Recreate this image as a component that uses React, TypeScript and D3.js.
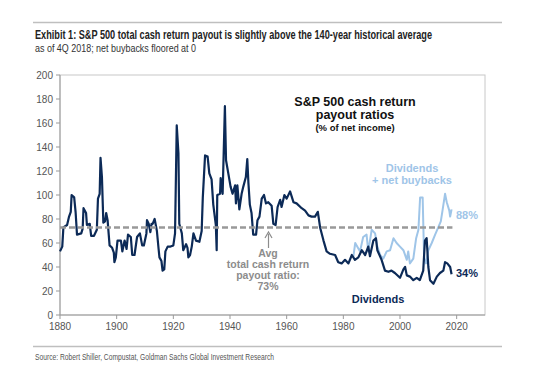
import React from "react";
import * as d3 from "d3";

const divYears = [1880,1880.8,1881.2,1882.5,1883.2,1883.8,1884.1,1885,1885.5,1886,1887.5,1888,1888.3,1889.2,1889.5,1890.5,1891,1892,1893,1893.4,1894,1894.3,1894.8,1895.3,1895.9,1896.3,1896.8,1897.2,1897.5,1898.4,1899,1899.2,1899.7,1900.3,1901.5,1902,1902.8,1903.5,1904,1905,1905.5,1906.3,1907.2,1908.2,1909,1909.6,1910.5,1910.7,1911.3,1911.9,1912.3,1912.7,1913.4,1914.2,1914.8,1915.1,1915.8,1916.2,1916.8,1917.2,1918,1919,1920,1920.6,1921.2,1921.8,1922.1,1923,1923.5,1924.5,1925,1925.3,1925.9,1926.5,1927.1,1928,1929.2,1930,1930.4,1931.2,1932.1,1932.7,1933.5,1934.1,1935,1935.3,1935.5,1936.5,1936.7,1937.4,1938.2,1938.6,1939.4,1940.2,1940.9,1941.8,1942.1,1942.6,1943.3,1944.1,1944.7,1945.6,1946.1,1946.5,1947,1947.6,1948.2,1949.2,1949.7,1950.4,1951.2,1952,1952.7,1953.5,1954.7,1955.3,1956.1,1956.8,1957.7,1958.2,1959.2,1960,1961.2,1962.4,1963.5,1965.3,1966.5,1967.7,1968.8,1970,1971,1971.8,1973,1974.1,1975.3,1977.1,1978.2,1979.4,1980.6,1981.8,1983,1984.1,1985.3,1986.5,1987.7,1988.8,1989.4,1990.6,1991.5,1992,1993.5,1994.7,1995.9,1997,1998.2,2000,2001.2,2001.8,2002.4,2003.5,2004.7,2005.9,2007,2008.2,2008.8,2009.4,2010,2010.6,2011.8,2013,2014.1,2015.3,2015.9,2016.7,2017.7,2018.2];
const divValues = [53,57,73,75,82,86,100,98,86,67,68,72,89,85,75,76,66,66,71,97,101,131,115,77,78,85,79,67,58,56,52,44,48,62,62,53,62,55,67,65,50,50,65,68,58,58,68,79,76,69,76,76,80,70,55,48,45,37,38,53,57,57,58,68,158,135,76,68,54,59,56,48,50,57,68,62,61,70,98,133,132,118,113,92,75,54,100,101,114,101,174,129,118,107,101,108,93,108,88,101,107,115,130,110,92,85,67,67,79,82,97,100,93,94,91,76,75,90,96,90,100,97,103,94,93,89,87,83,82,82,86,73,62,53,51,50,44,43,46,43,50,46,48,54,50,57,49,62,64,54,46,37,36,37,35,31,38,40,33,32,29,31,29,37,62,64,40,29,26,32,35,37,44,43,40,34];

const totYears = [1983.5,1984.2,1984.7,1985.9,1987,1988.2,1988.8,1990,1991.2,1992,1993,1994.1,1995.3,1996.5,1997.7,1998.8,2000,2001.2,2002.4,2002.9,2003.5,2004.7,2005.7,2006.5,2007.1,2008,2008.5,2009.2,2010,2011.2,2012.4,2013.5,2014.4,2015,2015.9,2016.5,2017.4,2017.7,2018.2];
const totValues = [48,60,58,53,65,67,53,71,68,57,50,47,53,54,64,60,57,54,46,53,43,47,64,71,98,98,48,43,54,60,67,73,78,87,101,94,87,82,88];

const avgValue = 73;
const avgRange = [1880, 2018.5];
const xTicks = [1880, 1900, 1920, 1940, 1960, 1980, 2000, 2020];
const yTicks = [0, 20, 40, 60, 80, 100, 120, 140, 160, 180, 200];

const NAVY = "#0c2a57";
const LIGHT = "#9fc5e8";
const GRAY = "#999999";

export default function App() {
  const x = d3.scaleLinear().domain([1880, 2030]).range([60, 485]);
  const y = d3.scaleLinear().domain([0, 200]).range([315, 75]);
  const line = d3
    .line<[number, number]>()
    .x((d) => x(d[0]))
    .y((d) => y(d[1]));
  const div = divYears.map((t, i) => [t, divValues[i]] as [number, number]);
  const tot = totYears.map((t, i) => [t, totValues[i]] as [number, number]);
  const sans = "'Liberation Sans', Arial, sans-serif";
  return (
    <svg
      width={560}
      height={390}
      style={{ position: "absolute", left: 0, top: 0, background: "#fff" }}
    >
      <line x1={33} x2={502} y1={22.5} y2={22.5} stroke="#bfbfbf" strokeWidth={1.5} />
      <text x={35} y={39} fontFamily={sans} fontWeight="bold" fontSize={12} fill="#222"
        textLength={397} lengthAdjust="spacingAndGlyphs">
        Exhibit 1: S&amp;P 500 total cash return payout is slightly above the 140-year historical average
      </text>
      <text x={35} y={52} fontFamily={sans} fontSize={11} fill="#333"
        textLength={161} lengthAdjust="spacingAndGlyphs">
        as of 4Q 2018; net buybacks floored at 0
      </text>

      {/* frame */}
      <rect x={60} y={75} width={425} height={240} fill="none" stroke="#c8c8c8" strokeWidth={1} />
      <line x1={60} x2={60} y1={75} y2={315} stroke="#999" strokeWidth={1} />
      <line x1={60} x2={485} y1={315} y2={315} stroke="#999" strokeWidth={1} />
      {yTicks.map((t) => (
        <g key={"y" + t}>
          <line x1={56} x2={60} y1={y(t)} y2={y(t)} stroke="#999" />
          <text x={53} y={y(t) + 3.5} textAnchor="end" fontFamily={sans} fontSize={10} fill="#555">
            {t}
          </text>
        </g>
      ))}
      {xTicks.map((t) => (
        <g key={"x" + t}>
          <line x1={x(t)} x2={x(t)} y1={315} y2={319} stroke="#999" />
          <text x={x(t)} y={330} textAnchor="middle" fontFamily={sans} fontSize={10} fill="#555">
            {t}
          </text>
        </g>
      ))}

      <path d={line(tot) || ""} fill="none" stroke={LIGHT} strokeWidth={2} strokeLinejoin="round" />
      <path d={line(div) || ""} fill="none" stroke={NAVY} strokeWidth={2.2} strokeLinejoin="round" />
      <line
        x1={x(avgRange[0])}
        x2={x(avgRange[1])}
        y1={y(avgValue)}
        y2={y(avgValue)}
        stroke={GRAY}
        strokeWidth={2.5}
        strokeDasharray="6,3"
      />

      {/* annotations */}
      <g fontFamily={sans} fontWeight="bold" textAnchor="middle">
        <text x={355} y={106} fontSize={12.5} fill="#111">S&amp;P 500 cash return</text>
        <text x={355} y={119} fontSize={12.5} fill="#111">payout ratios</text>
        <text x={355} y={130.5} fontSize={9.5} fill="#111">(% of net income)</text>
        <text x={412} y={172} fontSize={11} fill={LIGHT}>Dividends</text>
        <text x={412} y={184} fontSize={11} fill={LIGHT}>+ net buybacks</text>
        <text x={378} y={303} fontSize={11} fill={NAVY}>Dividends</text>
        <text x={268} y={257} fontSize={10.5} fill="#8c8c8c">Avg</text>
        <text x={268} y={268} fontSize={10.5} fill="#8c8c8c">total cash return</text>
        <text x={268} y={279} fontSize={10.5} fill="#8c8c8c">payout ratio:</text>
        <text x={268} y={290} fontSize={10.5} fill="#8c8c8c">73%</text>
      </g>
      <text x={456} y={219} fontFamily={sans} fontWeight="bold" fontSize={11} fill={LIGHT}>88%</text>
      <text x={456} y={277} fontFamily={sans} fontWeight="bold" fontSize={11} fill={NAVY}>34%</text>
      <line x1={268.5} x2={268.5} y1={234} y2={248} stroke="#8c8c8c" strokeWidth={1.2} />
      <path d="M265,238 L268.5,232 L272,238" fill="none" stroke="#8c8c8c" strokeWidth={1.2} />

      <line x1={33} x2={502} y1={346.5} y2={346.5} stroke="#bfbfbf" strokeWidth={1.5} />
      <text x={35} y={360} fontFamily={sans} fontSize={9} fill="#555"
        textLength={239} lengthAdjust="spacingAndGlyphs">
        Source: Robert Shiller, Compustat, Goldman Sachs Global Investment Research
      </text>
    </svg>
  );
}
